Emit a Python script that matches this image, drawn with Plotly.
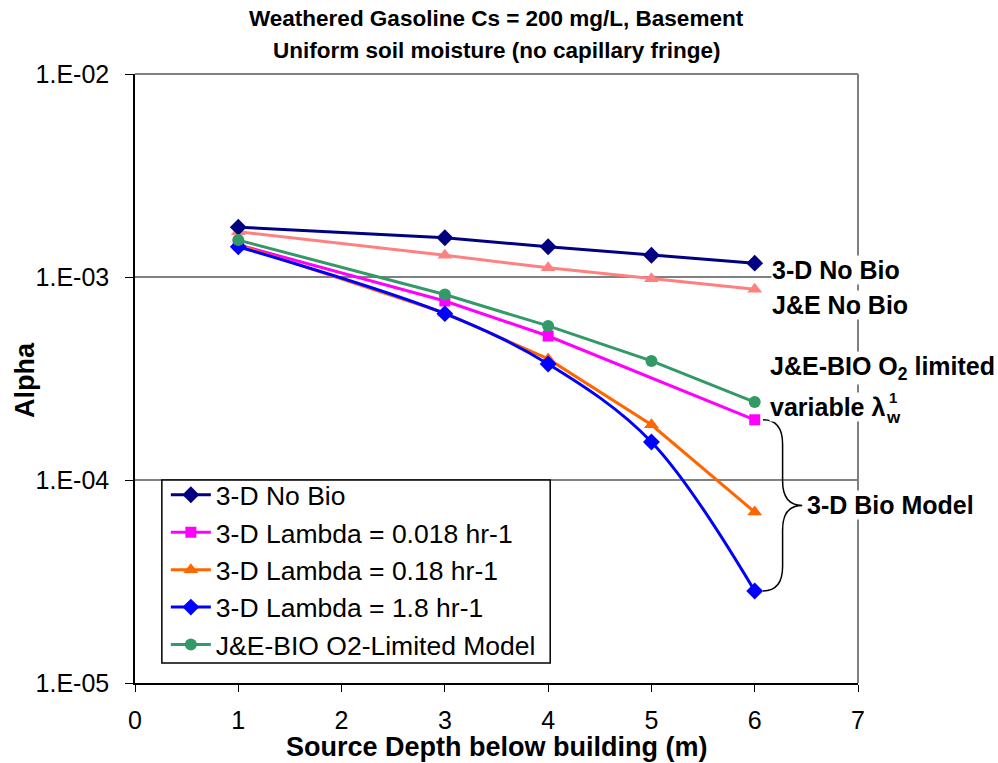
import math
import plotly.graph_objects as go

# Source depth (m) and alpha values per model
depth = [1, 3, 4, 5, 6]
depth_lambda_0018 = [1, 3, 4, 6]

alpha_3d_nobio = [1.76e-3, 1.56e-3, 1.41e-3, 1.28e-3, 1.17e-3]
alpha_je_nobio = [1.67e-3, 1.28e-3, 1.11e-3, 0.98e-3, 0.87e-3]
alpha_je_bio = [1.52e-3, 8.2e-4, 5.74e-4, 3.86e-4, 2.42e-4]
alpha_lambda_0018 = [1.44e-3, 7.62e-4, 5.12e-4, 1.98e-4]
alpha_lambda_018 = [1.44e-3, 6.65e-4, 3.95e-4, 1.87e-4, 6.95e-5]
alpha_lambda_18 = [1.41e-3, 6.6e-4, 3.73e-4, 1.54e-4, 2.84e-5]

ytick_vals = [1e-5, 1e-4, 1e-3, 1e-2]
ytick_text = ["1.E-05", "1.E-04", "1.E-03", "1.E-02"]
xtick_vals = [0, 1, 2, 3, 4, 5, 6, 7]

FONT = "Liberation Sans, Arial, sans-serif"
X_MAX = 7
Y_LOG_MIN, Y_LOG_MAX = -5, -2

W, H = 998, 763
M_L, M_R, M_T, M_B = 135, 140, 74, 80
PLOT_W = W - M_L - M_R
PLOT_H = H - M_T - M_B

fig = go.Figure()


def add_series(x, y, name, color, symbol, size, shape="linear", legend=True):
    fig.add_trace(go.Scatter(
        x=x, y=y, name=name, mode="lines+markers",
        line=dict(color=color, width=3, shape=shape),
        marker=dict(symbol=symbol, size=size, color=color),
        showlegend=legend, legendgroup=name,
    ))


add_series(depth, alpha_je_nobio, "J&E No Bio", "#FF8080", "triangle-up", 13, legend=False)
add_series(depth, alpha_3d_nobio, "3-D No Bio", "#000080", "diamond", 13)
add_series(depth_lambda_0018, alpha_lambda_0018, "3-D Lambda = 0.018 hr-1", "#FF00FF", "square", 11)
add_series(depth, alpha_lambda_018, "3-D Lambda = 0.18 hr-1", "#FF6600", "triangle-up", 13)
add_series(depth, alpha_lambda_18, "3-D Lambda = 1.8 hr-1", "#0000FF", "diamond", 13, shape="spline")
add_series(depth, alpha_je_bio, "J&E-BIO O2-Limited Model", "#339966", "circle", 12)


def px(x):
    return x / X_MAX


def py(v):
    return (math.log10(v) - Y_LOG_MIN) / (Y_LOG_MAX - Y_LOG_MIN)


# Gray frame on top and right edges of the plot area
fig.add_shape(type="line", xref="paper", yref="paper", x0=0, x1=1, y0=1, y1=1,
              line=dict(color="#808080", width=2), layer="below")
fig.add_shape(type="line", xref="paper", yref="paper", x0=1, x1=1, y0=0, y1=1,
              line=dict(color="#808080", width=2), layer="below")

# Legend frame (drawn as a shape so its padding can be tight)
leg_top = py(1e-4)
leg_bottom = leg_top - 183 / PLOT_H
fig.add_shape(type="rect", xref="paper", yref="paper",
              x0=px(0.26), x1=px(4.02), y0=leg_bottom, y1=leg_top,
              fillcolor="white", line=dict(color="black", width=1.5), layer="above")

# Curly brace grouping the 3-D bio model curves
y_top = py(alpha_lambda_0018[-1])
y_bot = py(alpha_lambda_18[-1])
y_mid = (y_top + y_bot) / 2
x0 = px(6.08)
xv = px(6.27)
xt = px(6.46)
r = 0.04
brace = (f"M {x0},{y_top} Q {xv},{y_top} {xv},{y_top - r} "
         f"L {xv},{y_mid + r} Q {xv},{y_mid} {xt},{y_mid} "
         f"Q {xv},{y_mid} {xv},{y_mid - r} "
         f"L {xv},{y_bot + r} Q {xv},{y_bot} {x0},{y_bot}")
fig.add_shape(type="path", xref="paper", yref="paper", path=brace,
              line=dict(color="black", width=1.5))

LABEL_SIZE = 25


def label(text, x, y, size=LABEL_SIZE, xshift=0, yshift=0):
    fig.add_annotation(text=text, x=x, y=y, xref="paper", yref="paper",
                       xanchor="left", yanchor="middle", showarrow=False,
                       xshift=xshift, yshift=yshift,
                       font=dict(family=FONT, size=size, color="black"),
                       bgcolor="white", borderpad=0)


label("<b>3-D No Bio</b>", px(6.16), py(alpha_3d_nobio[-1]), yshift=-7)
label("<b>J&E No Bio</b>", px(6.16), py(alpha_je_nobio[-1]), yshift=-16)
label("<b>J&E-BIO O<sub>2</sub> limited</b>", px(6.14), py(alpha_je_bio[-1]), yshift=34)
label("<b>variable λ</b>", px(6.14), py(alpha_je_bio[-1]), yshift=-5)
label("<b>1</b>", px(6.14), py(alpha_je_bio[-1]), size=15, xshift=119, yshift=5)
label("<b>w</b>", px(6.14), py(alpha_je_bio[-1]), size=17, xshift=116, yshift=-15)
label("<b>3-D Bio Model</b>", px(6.5), y_mid)

# Two-line chart title
TITLE_SIZE = 22.5
for text, y_px in [("<b>Weathered Gasoline Cs = 200 mg/L, Basement</b>", 18),
                   ("<b>Uniform soil moisture (no capillary fringe)</b>", 50)]:
    fig.add_annotation(text=text, x=0.5, y=1, xref="paper", yref="paper",
                       xanchor="center", yanchor="middle", yshift=M_T - y_px, showarrow=False,
                       font=dict(family=FONT, size=TITLE_SIZE, color="black"))

# Axis titles
fig.add_annotation(text="<b>Source Depth below building (m)</b>", x=0.5, y=0,
                   xref="paper", yref="paper", xanchor="center", yanchor="middle",
                   yshift=-(747 - (H - M_B)), showarrow=False,
                   font=dict(family=FONT, size=27, color="black"))
fig.add_annotation(text="<b>Alpha</b>", x=0, y=1 - (380 - M_T) / PLOT_H,
                   xref="paper", yref="paper", xanchor="center", yanchor="middle",
                   xshift=-(M_L - 25), textangle=-90, showarrow=False,
                   font=dict(family=FONT, size=27, color="black"))

fig.update_layout(
    width=W, height=H,
    margin=dict(l=M_L, r=M_R, t=M_T, b=M_B),
    paper_bgcolor="white", plot_bgcolor="white",
    font=dict(family=FONT, size=25, color="black"),
    xaxis=dict(
        range=[0, X_MAX], tickvals=xtick_vals, showgrid=False, zeroline=False,
        showline=True, linecolor="black", linewidth=1.5, automargin=False,
        ticks="outside", ticklen=7, tickcolor="black", ticklabelstandoff=7,
        tickfont=dict(family=FONT, size=25),
    ),
    yaxis=dict(
        type="log", range=[Y_LOG_MIN, Y_LOG_MAX], automargin=False,
        tickvals=ytick_vals, ticktext=ytick_text,
        showgrid=True, gridcolor="#808080", gridwidth=1.5, zeroline=False,
        showline=True, linecolor="black", linewidth=1.5,
        ticks="outside", ticklen=8, tickcolor="black", ticklabelstandoff=11,
        tickfont=dict(family=FONT, size=25),
    ),
    legend=dict(
        x=px(0.26) + 4 / PLOT_W, y=leg_top + 9 / PLOT_H, xanchor="left", yanchor="top",
        bgcolor="rgba(0,0,0,0)", borderwidth=0,
        font=dict(family=FONT, size=26.5, color="black"),
        traceorder="normal", tracegroupgap=2, itemwidth=40,
    ),
)

fig.write_html("out.html")
